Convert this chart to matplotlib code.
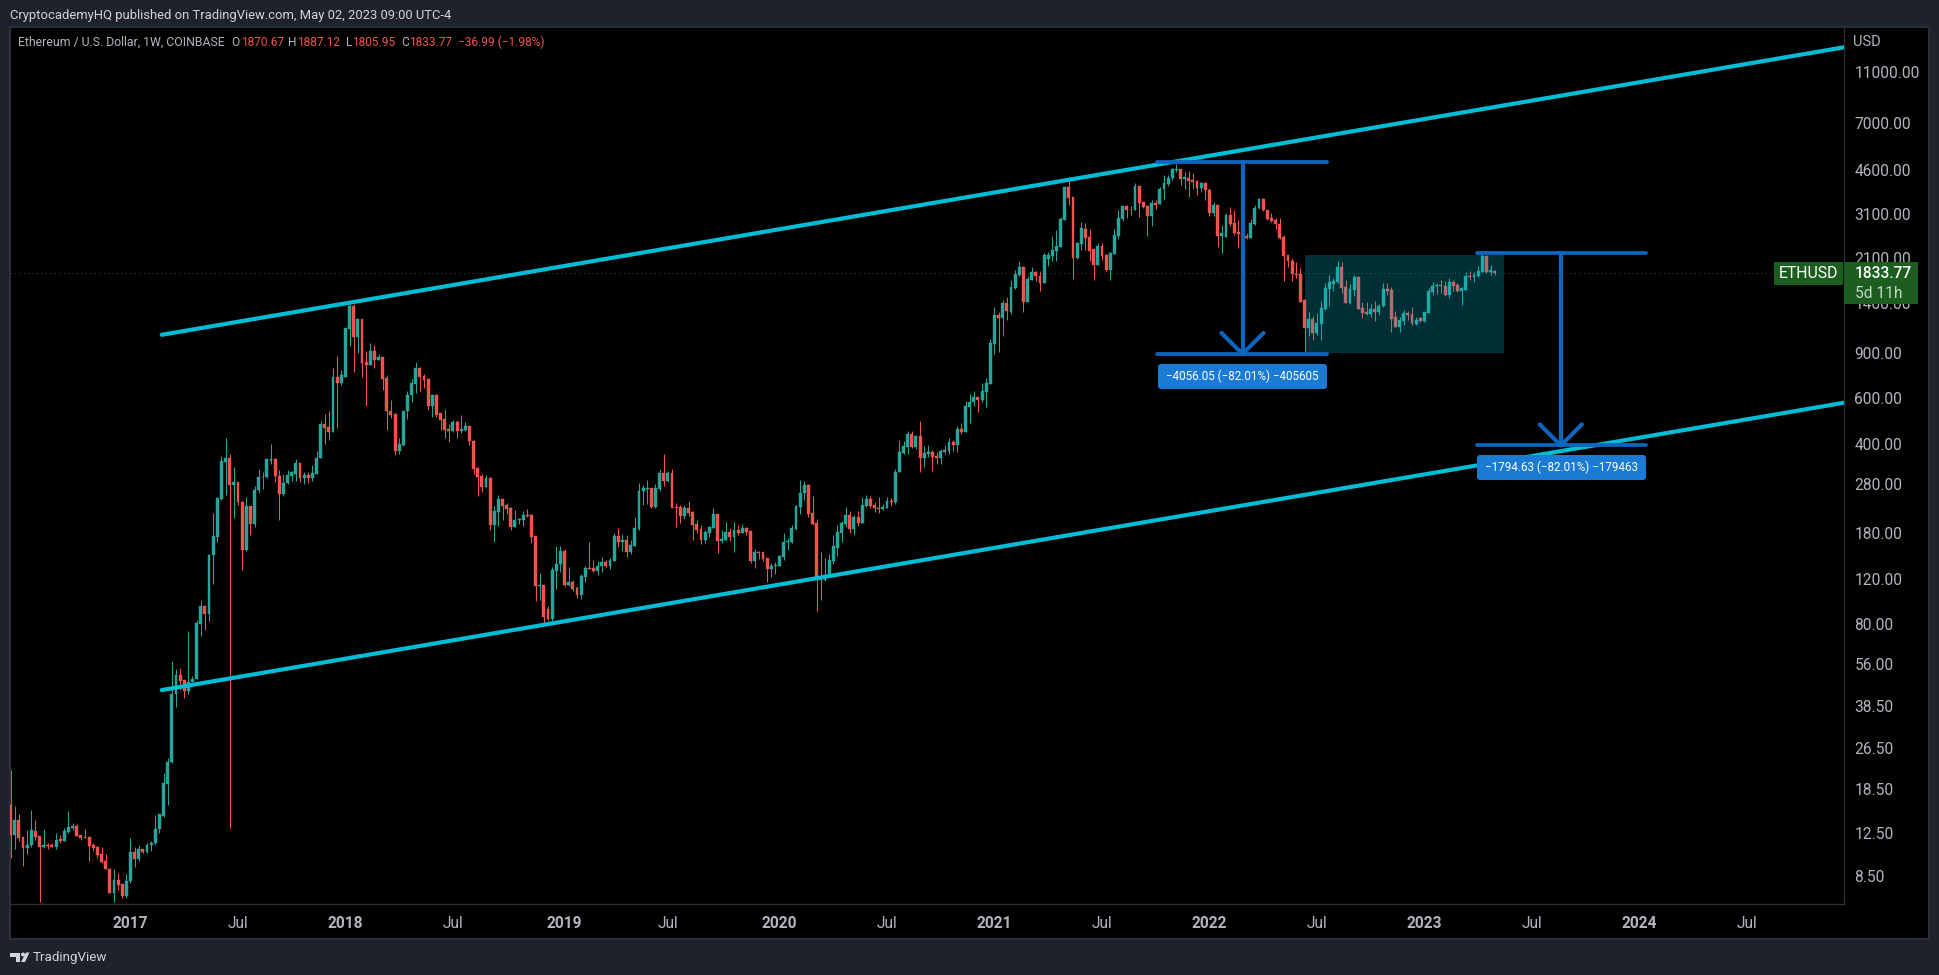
import matplotlib
matplotlib.use('Agg')
import matplotlib.pyplot as plt
import matplotlib.dates as mdates
import pandas as pd
from matplotlib.patches import Rectangle, FancyBboxPatch, Polygon, Circle

plt.rcParams['font.family'] = ['Roboto', 'DejaVu Sans']

# weekly candles, ETHUSD on a log scale
first_week = '2016-06-13'

opens = [
    16, 12.2, 14, 12, 10.9, 11.2, 12.7, 12.1, 11, 11.2,
    11.2, 11, 11.8, 11.6, 12.6, 13, 13.2, 12.2, 12, 12,
    11.2, 11, 10.3, 9.7, 9, 7.3, 8.2, 7.9, 7.1, 8.1,
    10.5, 9.9, 10.8, 10.5, 11.2, 11.4, 12.9, 14.5, 19.3, 23.4,
    43, 51, 48.5, 44, 48, 49.3, 80, 94, 88, 148,
    174, 245, 341, 353, 277, 285, 238, 155, 229, 195,
    265, 296, 297, 342, 349, 300, 255, 281, 299, 306,
    338, 294, 303, 294, 306, 351, 477, 463, 444, 725,
    686, 728, 1108, 1365, 1037, 1213, 825, 804, 912, 840,
    864, 720, 537, 522, 376, 397, 535, 615, 682, 785,
    730, 712, 562, 615, 525, 498, 456, 448, 486, 448,
    452, 469, 410, 321, 300, 272, 295, 194, 218, 245,
    231, 225, 190, 203, 203, 212, 212, 176, 113, 114,
    92, 84, 129, 137, 154, 114, 117, 111, 104, 122,
    132, 132, 129, 134, 139, 135, 141, 176, 167, 170,
    153, 161, 187, 262, 268, 270, 228, 268, 309, 287,
    309, 227, 227, 210, 225, 217, 195, 187, 170, 181,
    189, 213, 168, 169, 182, 174, 186, 181, 189, 184,
    140, 152, 152, 144, 131, 134, 135, 146, 166, 167,
    187, 227, 258, 276, 216, 197, 122, 119, 124, 141,
    158, 181, 196, 212, 187, 209, 198, 230, 244, 231,
    226, 224, 226, 241, 238, 310, 369, 390, 437, 390,
    428, 352, 366, 371, 358, 352, 373, 375, 406, 396,
    456, 443, 553, 578, 604, 590, 635, 682, 973, 1258,
    1222, 1400, 1295, 1600, 1800, 1938, 1415, 1725, 1845, 1785,
    1680, 2080, 2140, 2235, 2310, 2950, 3930, 3600, 2100, 2380,
    2720, 2530, 2260, 1970, 2320, 2150, 1880, 2170, 2550, 2960,
    3330, 3220, 3210, 3990, 3440, 3330, 3050, 3420, 3400, 3860,
    4060, 4260, 4580, 4630, 4250, 4290, 4190, 4150, 3920, 4100,
    3840, 3140, 3350, 2540, 2530, 3070, 2860, 2640, 2590, 2550,
    2510, 2840, 3260, 3540, 3210, 3000, 2950, 2830, 2530, 2150,
    2040, 1815, 1815, 1440, 1120, 1212, 1075, 1165, 1330, 1590,
    1665, 1690, 1940, 1620, 1400, 1575, 1770, 1340, 1290, 1270,
    1330, 1290, 1360, 1590, 1575, 1235, 1135, 1190, 1285, 1270,
    1165, 1225, 1190, 1285, 1550, 1625, 1650, 1630, 1510, 1690,
    1640, 1565, 1580, 1785, 1770, 1785, 1850, 2130, 1850, 1870.67,
]
closes = [
    12.2, 14, 11.9, 10.9, 11.2, 12.8, 12, 11, 11.2, 11.1,
    11, 11.7, 11.6, 12.7, 13.1, 13.2, 12.1, 11.9, 11.9, 11.1,
    10.9, 10.2, 9.6, 9, 7.3, 8.2, 7.8, 7.1, 8.1, 10.5,
    9.9, 10.8, 10.5, 11.2, 11.4, 12.9, 14.7, 19.4, 23.4, 43,
    51, 48.2, 44, 48, 49.2, 80.8, 94, 88, 148, 176,
    247, 342, 353, 277, 285, 238, 155, 229, 195, 265,
    297, 298, 349, 348, 299, 255, 283, 302, 311, 338,
    294, 303, 294, 308, 353, 476, 459, 444, 725, 686,
    740, 1120, 1365, 1037, 1213, 818, 804, 912, 840, 864,
    712, 537, 518, 376, 398, 535, 620, 689, 788, 725,
    708, 562, 615, 517, 493, 452, 448, 486, 448, 456,
    469, 408, 318, 298, 272, 295, 194, 220, 245, 230,
    223, 190, 203, 205, 212, 210, 174, 113, 114, 85,
    84, 130, 137, 154, 114, 117, 110, 104, 123, 132,
    131, 129, 135, 139, 134, 142, 176, 167, 170, 153,
    162, 189, 262, 270, 270, 228, 270, 309, 287, 309,
    225, 225, 210, 225, 215, 193, 186, 170, 182, 190,
    213, 168, 171, 182, 174, 186, 181, 189, 182, 140,
    152, 151, 143, 131, 134, 136, 147, 167, 168, 189,
    229, 258, 276, 214, 195, 122, 119, 124, 142, 160,
    182, 197, 212, 187, 209, 198, 231, 244, 230, 226,
    224, 227, 241, 238, 312, 371, 392, 437, 390, 428,
    352, 369, 371, 355, 352, 375, 378, 406, 396, 456,
    443, 560, 582, 604, 590, 640, 689, 980, 1258, 1222,
    1400, 1303, 1615, 1816, 1938, 1415, 1735, 1855, 1780, 1680,
    2150, 2150, 2249, 2320, 2970, 3945, 3560, 2100, 2400, 2725,
    2510, 2230, 1970, 2320, 2130, 1880, 2190, 2570, 2990, 3330,
    3210, 3210, 3990, 3420, 3300, 3050, 3420, 3360, 3880, 4100,
    4290, 4630, 4630, 4250, 4300, 4170, 4130, 3920, 4090, 3830,
    3140, 3350, 2540, 2610, 3070, 2840, 2610, 2590, 2530, 2510,
    2860, 3280, 3540, 3210, 2970, 2900, 2830, 2510, 2130, 2030,
    1810, 1800, 1420, 1120, 1212, 1075, 1175, 1343, 1600, 1690,
    1705, 1940, 1600, 1400, 1590, 1770, 1330, 1280, 1270, 1330,
    1295, 1370, 1590, 1560, 1220, 1135, 1200, 1285, 1260, 1170,
    1210, 1190, 1290, 1560, 1630, 1650, 1625, 1510, 1690, 1630,
    1560, 1600, 1785, 1770, 1795, 1865, 2130, 1850, 1885, 1833.77,
]
highs = [
    21.9, 15.8, 14.7, 12, 12.8, 15.3, 14, 12.1, 12.9, 11.4,
    11.4, 12.4, 12.2, 13, 15.1, 13.6, 13.5, 12.2, 12.9, 12,
    11.4, 11.1, 11, 10.3, 9.1, 9, 8.7, 7.9, 8.6, 11.9,
    11, 11.2, 10.8, 11.4, 11.6, 14.6, 14.8, 21.3, 24.3, 57.7,
    53.7, 54, 48.8, 75.4, 50.5, 83, 99.5, 95, 150, 216,
    249, 357, 421, 365, 326, 285, 240, 249, 229, 275,
    319, 310, 349, 399, 351, 315, 305, 315, 313, 350,
    338, 312, 312, 331, 376, 490, 520, 536, 784, 873,
    770, 1120, 1390, 1390, 1225, 1220, 912, 980, 965, 892,
    864, 738, 590, 525, 420, 535, 640, 712, 830, 793,
    745, 712, 625, 625, 525, 546, 477, 493, 493, 517,
    486, 469, 413, 324, 306, 303, 297, 229, 254, 247,
    235, 227, 222, 206, 219, 224, 214, 176, 126, 114,
    94, 133, 160, 160, 157, 133, 119, 113, 125, 135,
    166, 142, 141, 146, 142, 145, 180, 189, 179, 178,
    170, 208, 283, 278, 290, 270, 280, 320, 364, 314,
    320, 236, 232, 231, 240, 219, 203, 194, 186, 192,
    226, 213, 186, 199, 189, 199, 194, 196, 191, 184,
    157, 154, 152, 144, 138, 139, 148, 180, 172, 194,
    232, 290, 287, 279, 252, 205, 153, 144, 150, 178,
    193, 201, 228, 220, 212, 220, 249, 253, 252, 237,
    249, 234, 249, 247, 320, 415, 410, 448, 448, 432,
    488, 392, 394, 378, 371, 382, 394, 420, 413, 469,
    482, 586, 621, 640, 609, 685, 720, 1015, 1355, 1295,
    1440, 1475, 1720, 1885, 2030, 1950, 1790, 1930, 1870, 1870,
    2180, 2200, 2540, 2680, 3030, 3990, 4300, 3600, 2415, 2890,
    2870, 2710, 2260, 2390, 2400, 2170, 2215, 2710, 3210, 3330,
    3360, 3330, 4076, 3990, 3450, 3360, 3510, 3510, 3930, 4380,
    4380, 4690, 4830, 4630, 4500, 4560, 4480, 4190, 4130, 4130,
    3900, 3440, 3350, 2800, 3120, 3310, 3210, 2950, 2800, 2620,
    2970, 3350, 3590, 3560, 3210, 3130, 2980, 2980, 2580, 2150,
    2100, 2020, 1920, 1450, 1290, 1245, 1285, 1425, 1670, 1800,
    1755, 2040, 2020, 1720, 1665, 1800, 1785, 1420, 1410, 1390,
    1430, 1385, 1670, 1670, 1620, 1300, 1240, 1320, 1310, 1350,
    1235, 1235, 1295, 1600, 1690, 1670, 1720, 1700, 1750, 1720,
    1670, 1620, 1850, 1865, 1850, 1955, 2160, 2140, 1970, 1887.12,
]
lows = [
    10, 10.8, 11.6, 9.3, 10.3, 11, 11.7, 6.7, 10.9, 10.8,
    11, 10.8, 11.4, 11.6, 12.4, 12.8, 12.1, 11.7, 11.9, 9.7,
    10.6, 10, 9.5, 9, 7.3, 6.7, 7.5, 7, 7, 8,
    9.2, 9.7, 10.4, 10.4, 10.6, 11.2, 12.4, 14.4, 16, 23.2,
    38.4, 44.5, 41.3, 42.8, 47.8, 49.3, 72, 76, 82.6, 115,
    167, 242, 253, 13, 207, 231, 130, 154, 178, 190,
    258, 268, 294, 334, 285, 202, 250, 279, 287, 287,
    285, 279, 282, 287, 306, 351, 400, 415, 444, 459,
    674, 725, 956, 760, 900, 722, 558, 804, 784, 840,
    643, 452, 505, 362, 364, 392, 500, 580, 626, 637,
    655, 540, 507, 507, 452, 422, 405, 444, 419, 440,
    448, 396, 306, 250, 260, 272, 185, 166, 192, 203,
    214, 185, 190, 196, 192, 208, 165, 98, 99, 81,
    83, 82, 110, 127, 113, 113, 108, 101, 100, 117,
    131, 127, 124, 128, 133, 131, 140, 159, 154, 146,
    149, 161, 186, 232, 233, 226, 226, 262, 274, 285,
    225, 191, 197, 204, 210, 170, 180, 164, 165, 174,
    189, 151, 165, 169, 168, 153, 178, 181, 178, 138,
    132, 143, 140, 117, 122, 125, 135, 142, 155, 165,
    186, 214, 242, 208, 193, 90, 99, 118, 124, 137,
    147, 166, 190, 180, 178, 192, 198, 228, 225, 218,
    216, 222, 226, 230, 233, 310, 366, 366, 384, 382,
    310, 325, 355, 313, 334, 334, 366, 366, 375, 373,
    435, 443, 482, 560, 531, 582, 553, 682, 888, 905,
    1042, 1200, 1270, 1590, 1780, 1290, 1415, 1725, 1700, 1560,
    1680, 1950, 2045, 2045, 2310, 2950, 3360, 1730, 2080, 2250,
    2250, 2045, 1715, 1970, 2050, 1870, 1720, 2170, 2480, 2900,
    3000, 3060, 3210, 3030, 3280, 2550, 2780, 3240, 3400, 3530,
    3960, 4200, 4490, 4000, 3880, 3600, 3880, 3660, 3780, 3510,
    3040, 3040, 2310, 2190, 2530, 2780, 2570, 2280, 2350, 2490,
    2510, 2820, 3230, 3170, 2940, 2890, 2720, 2490, 1710, 1940,
    1713, 1745, 1420, 896, 1045, 1010, 1050, 1008, 1320, 1365,
    1560, 1670, 1530, 1400, 1395, 1490, 1330, 1230, 1260, 1240,
    1195, 1260, 1350, 1500, 1080, 1135, 1080, 1150, 1210, 1155,
    1155, 1180, 1185, 1285, 1510, 1525, 1535, 1495, 1465, 1560,
    1545, 1375, 1575, 1720, 1690, 1770, 1850, 1835, 1800, 1805.95,
]

price_ticks = [11000, 7000, 4600, 3100, 2100, 1400, 900, 600, 400, 280,
               180, 120, 80, 56, 38.5, 26.5, 18.5, 12.5, 8.5]
time_ticks = ['2017-01-02', '2017-07-03', '2018-01-01', '2018-07-02', '2019-01-07',
              '2019-07-01', '2020-01-06', '2020-07-06', '2021-01-04', '2021-07-05',
              '2022-01-03', '2022-07-04', '2023-01-02', '2023-07-03', '2024-01-01',
              '2024-07-01']
time_labels = ['2017', 'Jul', '2018', 'Jul', '2019', 'Jul', '2020', 'Jul', '2021', 'Jul',
               '2022', 'Jul', '2023', 'Jul', '2024', 'Jul']

# channel lines and the two measure tools, as (date, price)
upper_dates = ['2017-02-24', '2024-12-12']
upper_prices = [1056, 13690]
lower_dates = ['2017-02-24', '2024-12-12']
lower_prices = [44.5, 576]
last_close = 1833.77

measure1_dates = ['2021-10-07', '2022-02-28', '2022-07-21']
measure1_prices = [4946, 890]
measure2_dates = ['2023-04-01', '2023-08-21', '2024-01-12']
measure2_prices = [2188, 393.7]
box_dates = ['2022-06-14', '2023-05-16']
box_prices = [900, 2150]

BG = '#1e222d'
GRID = '#2a2e39'
AXIS_TEXT = '#b2b5be'
UP = '#26a69a'
DOWN = '#ef5350'
CYAN = '#00bcd4'
BLUE = '#0d65bd'
LABEL_BLUE = '#1b7bd4'
PRICE_GREEN = '#1b5e20'

W, H = 1940, 975
x0 = mdates.date2num(pd.Timestamp(first_week))
week = 7.0


def to_num(dates):
    return mdates.date2num(pd.to_datetime(dates))


def plot_candles(ax):
    xs = x0 + week * pd.RangeIndex(len(closes)).to_numpy()
    colors = [UP if c >= o else DOWN for o, c in zip(opens, closes)]
    ax.vlines(xs, lows, highs, colors=colors, linewidth=0.72, zorder=2)
    bottoms = [min(o, c) for o, c in zip(opens, closes)]
    heights = [abs(o - c) for o, c in zip(opens, closes)]
    ax.bar(xs, heights, width=4.9, bottom=bottoms, color=colors, edgecolor=colors,
           linewidth=0.3, zorder=2.5)


def plot_measure(ax, dates, prices):
    left, mid, right = to_num(dates)
    top, bottom = prices
    ax.plot([left, right], [top, top], color=BLUE, lw=2.7, solid_capstyle='round', zorder=5)
    ax.plot([left, right], [bottom, bottom], color=BLUE, lw=2.7, solid_capstyle='round', zorder=5)
    ax.plot([mid, mid], [top, bottom], color=BLUE, lw=3.0, zorder=5)
    # arrow head is 21 px wide and 21 px tall on screen
    head_dx = 21 / 4.134 * week
    head_top = bottom * 1.206
    ax.plot([mid - head_dx, mid, mid + head_dx], [head_top, bottom, head_top], color=BLUE,
            lw=3.0, solid_capstyle='round', solid_joinstyle='round', zorder=5)


fig = plt.figure(figsize=(W / 100, H / 100), dpi=100, facecolor=BG)

# page frame, drawn in pixel coordinates
back = fig.add_axes([0, 0, 1, 1], zorder=0)
back.set_xlim(0, W)
back.set_ylim(H, 0)
back.axis('off')
back.add_patch(Rectangle((10, 27), 1919, 912, facecolor='black', edgecolor=GRID, lw=1.5))

ax = fig.add_axes([10 / W, (H - 904) / H, 1834 / W, 877 / H], zorder=1, facecolor='black')
ax.patch.set_alpha(0)
ax.set_yscale('log')
ax.set_xlim(x0 - 0.145 * week, x0 + 443.5 * week)
ax.set_ylim(6.61, 16410)

plot_candles(ax)
ax.axhline(last_close, color='#1f4a24', lw=0.8, ls=(0, (1, 3)), zorder=1.5)

bx = to_num(box_dates)
ax.add_patch(Rectangle((bx[0], box_prices[0]), bx[1] - bx[0], box_prices[1] - box_prices[0],
                       facecolor=CYAN, alpha=0.25, edgecolor='none', zorder=3))

ax.plot(to_num(upper_dates), upper_prices, color=CYAN, lw=3.0, solid_capstyle='round', zorder=4)
ax.plot(to_num(lower_dates), lower_prices, color=CYAN, lw=3.0, solid_capstyle='round', zorder=4)
plot_measure(ax, measure1_dates, measure1_prices)
plot_measure(ax, measure2_dates, measure2_prices)

# axes
for side in ['top', 'left']:
    ax.spines[side].set_visible(False)
for side in ['bottom', 'right']:
    ax.spines[side].set_color(GRID)
    ax.spines[side].set_linewidth(1.0)

ax.yaxis.tick_right()
ax.set_yticks(price_ticks)
ax.set_yticklabels(['%.2f' % p for p in price_ticks])
ax.minorticks_off()
ax.tick_params(axis='y', length=0, pad=7.5, labelsize=11.2, labelcolor=AXIS_TEXT)
ax.set_xticks(to_num(time_ticks))
ax.set_xticklabels(time_labels)
ax.tick_params(axis='x', length=0, pad=8.3, labelsize=11.2, labelcolor=AXIS_TEXT)
for lab in ax.get_xticklabels():
    if lab.get_text() != 'Jul':
        lab.set_fontweight('bold')

# everything on top of the chart
front = fig.add_axes([0, 0, 1, 1], zorder=2)
front.patch.set_alpha(0)
front.set_xlim(0, W)
front.set_ylim(H, 0)
front.axis('off')

front.text(10, 15, 'CryptocademyHQ published on TradingView.com, May 02, 2023 09:00 UTC-4',
           color='#d1d4dc', fontsize=9.4, va='center')
front.text(18, 42, 'Ethereum / U.S. Dollar, 1W, COINBASE', color=AXIS_TEXT, fontsize=8.8, va='center')
legend_parts = [(231, 'O', AXIS_TEXT), (241, '1870.67', DOWN), (288.5, 'H', AXIS_TEXT), (297, '1887.12', DOWN),
                (346, 'L', AXIS_TEXT), (352, '1805.95', DOWN), (401, 'C', AXIS_TEXT), (409, '1833.77', DOWN),
                (458, '\u221236.99 (\u22121.98%)', DOWN)]
for px, txt, col in legend_parts:
    front.text(px, 42, txt, color=col, fontsize=8.6, va='center')
front.text(1853, 42, 'USD', color=AXIS_TEXT, fontsize=10.5, va='center')

# current price tags
front.add_patch(Rectangle((1774, 262), 69, 23, facecolor=PRICE_GREEN, edgecolor='none'))
front.add_patch(Rectangle((1844, 262), 74, 42, facecolor=PRICE_GREEN, edgecolor='none'))
front.text(1808.5, 274, 'ETHUSD', color='white', fontsize=11.4, va='center', ha='center')
front.text(1855, 274, '1833.77', color='white', fontsize=11.2, va='center', fontweight='medium')
front.text(1855, 293, '5d 11h', color='#c5d6c6', fontsize=11.2, va='center')

# measure labels
for x, y, txt in [(1158, 364, '\u22124056.05 (\u221282.01%) \u2212405605'),
                  (1477, 455, '\u22121794.63 (\u221282.01%) \u2212179463')]:
    front.add_patch(FancyBboxPatch((x, y), 169, 25, boxstyle='round,pad=0,rounding_size=3',
                                   facecolor=LABEL_BLUE, edgecolor='none'))
    front.text(x + 84.5, y + 12.5, txt, color='white', fontsize=8.4, va='center', ha='center')

# TradingView mark
logo = '#d1d4dc'
front.add_patch(Polygon([(10, 952.5), (20, 952.5), (20, 962), (16, 962), (16, 956.5), (10, 956.5)], facecolor=logo))
front.add_patch(Circle((23, 954.5), 2, facecolor=logo))
front.add_patch(Polygon([(21, 962), (25, 962), (29.5, 952.5), (26, 952.5)], facecolor=logo))
front.text(33, 957, 'TradingView', color=logo, fontsize=9.6, va='center')

fig.savefig('out.png', dpi=100, facecolor=BG)
